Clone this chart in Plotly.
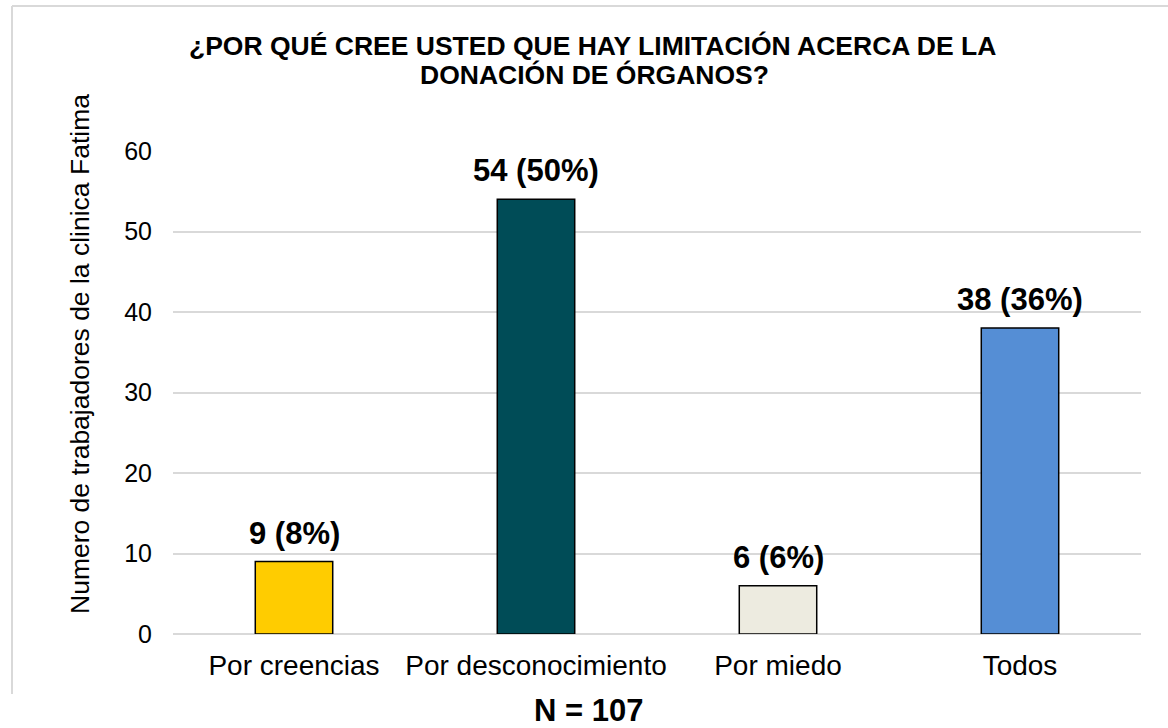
import plotly.graph_objects as go

categories = ["Por creencias", "Por desconocimiento", "Por miedo", "Todos"]
counts = [9, 54, 6, 38]
percents = [8, 50, 6, 36]
colors = ["#FFCC00", "#004C57", "#EDEBE0", "#558ED5"]
y_ticks = [0, 10, 20, 30, 40, 50, 60]

labels = [f"<b>{c} ({p}%)</b>" for c, p in zip(counts, percents)]

W, H = 1168, 728
L, R, T, B = 173, 1141, 151, 634
FONT = "Liberation Sans, Arial, sans-serif"

def px(x):
    return (x - L) / (R - L)

def py(y):
    return (B - y) / (B - T)

fig = go.Figure()
fig.add_trace(go.Bar(
    x=categories, y=counts, textposition="none",
    marker=dict(color=colors, line=dict(color="#000000", width=1.5)),
    width=0.32, hoverinfo="x+y",
))

for cat, val, lab in zip(categories, counts, labels):
    fig.add_annotation(x=cat, y=val, text=lab, showarrow=False,
                       xanchor="center", yanchor="bottom", yshift=9,
                       font=dict(size=31, color="#000000"))

fig.update_layout(
    width=W, height=H,
    margin=dict(l=L, r=W - R, t=T, b=H - B, pad=0),
    paper_bgcolor="white", plot_bgcolor="white",
    font=dict(family=FONT, color="#000000"),
    showlegend=False,
    xaxis=dict(showline=False, ticks="", tickfont=dict(size=28),
               ticklabelstandoff=12),
    yaxis=dict(range=[0, 60], tickvals=y_ticks, showgrid=True,
               gridcolor="#D9D9D9", gridwidth=1.5, zeroline=True,
               zerolinecolor="#D9D9D9", zerolinewidth=1.5,
               tickfont=dict(size=25), ticks="", ticklabelstandoff=20),
)

fig.add_annotation(
    text="<b>¿POR QUÉ CREE USTED QUE HAY LIMITACIÓN ACERCA DE LA</b>",
    xref="paper", yref="paper", x=px(592), y=py(46), xanchor="center", yanchor="middle",
    showarrow=False, font=dict(size=26.5),
)
fig.add_annotation(
    text="<b>DONACIÓN DE ÓRGANOS?</b>",
    xref="paper", yref="paper", x=px(594), y=py(75), xanchor="center", yanchor="middle",
    showarrow=False, font=dict(size=26.5),
)
fig.add_annotation(
    text="Numero de trabajadores de la clinica Fatima",
    xref="paper", yref="paper", x=px(80), y=py(354), xanchor="center", yanchor="middle",
    textangle=-90, showarrow=False, font=dict(size=26.5),
)
fig.add_annotation(
    text="<b>N = 107</b>",
    xref="paper", yref="paper", x=px(588), y=py(710), xanchor="center", yanchor="middle",
    showarrow=False, font=dict(size=31),
)

# outer frame (partially visible)
fig.add_shape(type="line", xref="paper", yref="paper",
              x0=px(12), x1=px(1170), y0=py(6), y1=py(6),
              line=dict(color="#D9D9D9", width=2))
fig.add_shape(type="line", xref="paper", yref="paper",
              x0=px(12), x1=px(12), y0=py(6), y1=py(694),
              line=dict(color="#D9D9D9", width=2))

fig.write_html("out.html",
               config={"displayModeBar": False},
               post_script="document.body.style.margin='0px';document.body.style.overflow='hidden';")
